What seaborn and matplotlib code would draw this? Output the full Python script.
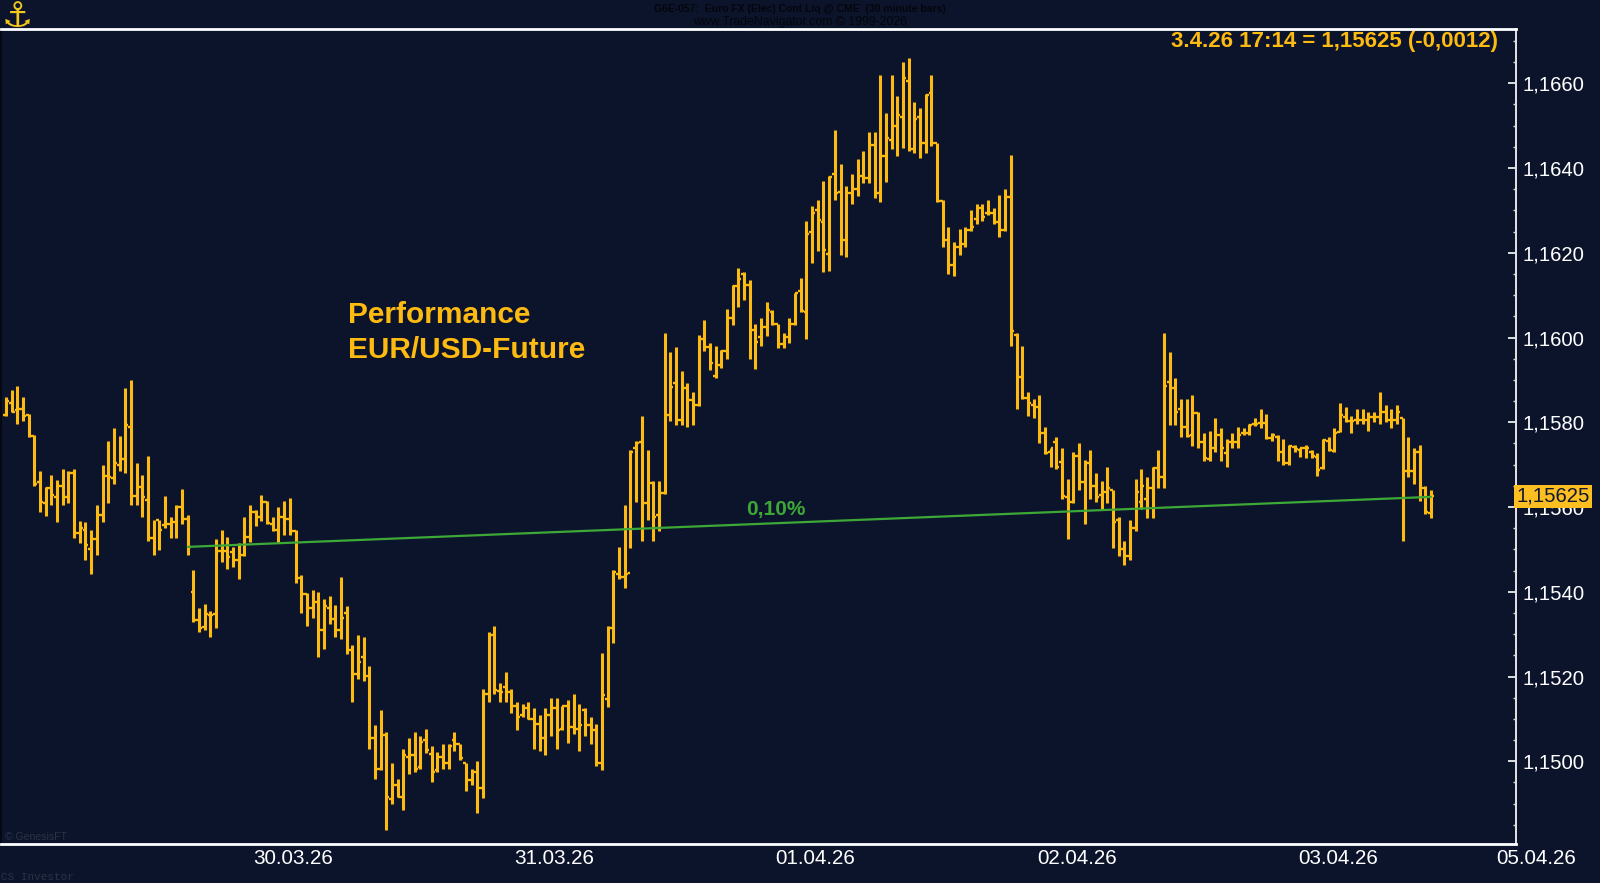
import matplotlib
matplotlib.use("Agg")
import matplotlib.pyplot as plt
from matplotlib.ticker import FixedLocator, FuncFormatter
import numpy as np
import pandas as pd
import seaborn as sns

# prices are written as points: 1586.0 means 1,15860
highs = [
1586.0,1587.6,1588.6,1586.0,1581.9,1577.0,1568.6,1564.8,1567.5,1566.5,
1569.0,1568.6,1569.0,1556.6,1556.5,1554.6,1560.6,1569.9,1575.6,1578.7,
1576.8,1588.1,1590.1,1570.5,1567.5,1572.0,1557.0,1556.9,1562.6,1557.7,
1560.6,1564.2,1558.1,1545.1,1536.1,1537.1,1535.5,1552.5,1554.6,1553.0,
1550.6,1551.6,1557.6,1560.6,1559.4,1562.9,1561.5,1557.7,1560.1,1561.4,
1562.1,1554.5,1543.9,1539.6,1540.4,1540.0,1538.4,1539.1,1537.0,1543.5,
1536.6,1527.4,1529.9,1529.4,1522.5,1508.5,1512.0,1507.0,1499.5,1495.9,
1503.0,1505.6,1507.0,1506.0,1507.6,1503.6,1502.1,1504.0,1504.0,1507.0,
1504.0,1499.5,1498.1,1500.0,1517.0,1530.6,1532.0,1518.5,1521.1,1517.0,
1514.0,1513.6,1514.1,1512.5,1511.0,1512.5,1515.0,1515.0,1513.0,1514.5,
1516.0,1513.6,1512.5,1510.5,1508.9,1525.5,1532.0,1545.1,1550.5,1560.6,
1573.5,1575.5,1581.6,1573.5,1566.1,1566.1,1601.0,1596.5,1597.7,1592.1,
1589.2,1587.1,1600.5,1604.1,1598.6,1598.1,1597.0,1606.7,1612.5,1616.5,
1615.5,1613.6,1603.3,1604.5,1608.4,1606.6,1603.3,1601.0,1604.5,1610.6,
1614.0,1627.5,1631.1,1632.4,1636.9,1638.1,1649.0,1640.9,1635.7,1638.5,
1642.1,1644.1,1648.6,1648.6,1661.9,1653.0,1661.9,1657.0,1665.1,1666.0,
1655.5,1654.1,1657.5,1661.9,1646.0,1632.4,1626.0,1622.6,1625.5,1626.0,
1630.0,1631.6,1631.6,1632.4,1630.5,1633.6,1635.0,1643.0,1601.0,1598.1,
1587.1,1585.6,1586.4,1579.0,1573.9,1576.6,1573.9,1566.6,1573.1,1575.0,
1571.1,1573.5,1568.1,1566.1,1569.5,1564.1,1557.6,1552.0,1556.9,1566.6,
1569.0,1567.0,1569.5,1573.5,1601.0,1596.5,1590.5,1585.6,1585.6,1586.4,
1582.4,1577.5,1578.0,1581.1,1578.7,1576.0,1577.5,1579.0,1578.6,1579.6,
1581.1,1583.1,1582.0,1577.5,1577.0,1576.0,1574.6,1574.6,1573.9,1574.6,
1573.5,1572.7,1576.0,1576.6,1578.6,1584.5,1583.5,1581.6,1583.1,1583.1,
1582.4,1582.4,1587.1,1584.0,1583.1,1584.0,1581.1,1576.6,1573.9,1574.6,
1565.0,1564.1]
lows = [
1581.5,1582.4,1579.5,1580.4,1576.6,1565.0,1558.9,1557.9,1560.5,1556.4,
1560.5,1560.9,1552.8,1551.5,1547.5,1544.3,1548.8,1556.4,1560.9,1565.4,
1568.5,1568.1,1560.5,1560.5,1557.6,1552.1,1548.8,1549.9,1555.0,1552.8,
1552.8,1556.1,1548.8,1532.9,1530.5,1531.0,1529.4,1531.4,1547.1,1545.4,
1545.9,1543.1,1548.4,1551.8,1555.5,1556.8,1556.1,1554.4,1551.4,1553.5,
1553.5,1542.0,1535.1,1531.9,1533.9,1524.5,1526.5,1532.5,1529.4,1528.9,
1525.4,1514.0,1519.4,1518.9,1503.0,1495.9,1497.9,1483.9,1489.9,1491.5,
1488.6,1497.1,1497.5,1498.3,1502.0,1495.0,1497.5,1498.3,1498.3,1502.5,
1500.4,1493.0,1494.4,1487.8,1491.4,1514.0,1516.0,1513.9,1513.9,1511.5,
1507.5,1510.5,1510.0,1503.0,1502.4,1501.5,1505.9,1503.0,1507.5,1504.4,
1506.4,1502.4,1505.9,1504.0,1498.9,1497.9,1512.9,1527.8,1543.0,1541.0,
1550.4,1561.3,1552.0,1557.0,1552.0,1554.4,1563.0,1580.4,1579.4,1579.4,
1579.0,1579.4,1583.9,1596.9,1592.4,1590.4,1592.9,1594.9,1602.9,1607.3,
1608.8,1594.9,1592.5,1598.0,1600.4,1602.9,1597.6,1597.6,1598.8,1602.9,
1606.0,1599.6,1617.5,1620.5,1615.4,1615.8,1632.4,1619.4,1619.0,1631.5,
1633.5,1636.4,1636.4,1633.0,1631.9,1636.8,1644.4,1642.9,1644.8,1644.0,
1643.5,1642.4,1643.5,1645.3,1631.9,1621.4,1614.9,1614.5,1619.4,1621.4,
1625.1,1626.9,1627.5,1629.0,1626.9,1623.8,1625.1,1598.0,1583.1,1585.5,
1581.5,1581.1,1575.0,1572.5,1569.4,1569.0,1562.0,1552.5,1560.9,1564.0,
1556.0,1562.0,1561.3,1559.3,1560.9,1550.4,1548.4,1546.4,1547.6,1554.4,
1559.5,1557.5,1557.5,1564.5,1564.5,1579.4,1579.4,1576.5,1576.5,1574.5,
1573.9,1570.9,1570.9,1572.9,1570.9,1569.4,1573.9,1573.9,1577.0,1577.0,
1579.1,1578.6,1576.0,1575.5,1570.9,1569.9,1569.9,1572.9,1571.9,1571.5,
1571.5,1567.4,1569.0,1573.3,1572.9,1577.6,1580.0,1577.4,1579.5,1579.5,
1577.9,1580.0,1579.5,1580.0,1578.6,1579.5,1552.0,1567.0,1565.5,1561.4,
1558.4,1557.5]
opens = [
1581.7,1584.5,1582.9,1583.1,1581.7,1576.8,1566.0,1560.9,1564.6,1562.4,
1565.0,1562.3,1568.1,1553.9,1554.6,1550.0,1552.4,1558.1,1567.4,1566.8,
1569.9,1571.4,1579.0,1562.6,1564.8,1561.7,1552.6,1556.9,1555.7,1556.1,
1556.5,1560.1,1557.1,1540.0,1533.3,1531.8,1534.5,1534.7,1549.7,1549.7,
1549.5,1547.5,1548.7,1553.0,1558.9,1557.6,1561.3,1556.1,1554.7,1557.7,
1557.1,1554.4,1543.2,1539.5,1536.1,1537.6,1531.1,1536.1,1533.5,1531.1,
1535.0,1526.2,1520.5,1524.5,1520.1,1505.6,1498.3,1506.2,1491.0,1494.4,
1491.6,1501.1,1501.5,1498.7,1505.1,1501.8,1497.9,1501.1,1499.5,1505.1,
1504.0,1499.5,1495.6,1497.5,1493.6,1515.9,1529.9,1516.6,1517.6,1516.4,
1513.1,1510.9,1512.5,1510.1,1508.9,1505.6,1510.9,1512.5,1507.7,1513.0,
1508.1,1507.7,1512.1,1508.5,1507.5,1499.5,1514.8,1531.5,1544.3,1543.5,
1544.5,1573.9,1575.4,1561.0,1565.6,1558.1,1563.4,1581.7,1589.2,1580.5,
1588.0,1585.3,1584.1,1599.7,1597.8,1590.9,1593.5,1596.9,1604.5,1612.1,
1615.1,1612.5,1601.8,1600.2,1602.5,1606.1,1603.1,1598.4,1600.2,1603.3,
1611.0,1606.1,1625.0,1630.1,1627.3,1619.8,1638.6,1634.4,1623.0,1634.0,
1635.0,1638.1,1637.7,1645.4,1634.0,1642.9,1646.6,1650.0,1652.1,1660.6,
1644.6,1652.1,1646.0,1657.6,1646.0,1632.3,1623.0,1617.1,1621.4,1622.0,
1625.4,1627.9,1630.5,1629.3,1629.3,1627.3,1625.4,1633.2,1600.6,1590.6,
1585.7,1584.1,1583.5,1577.5,1573.1,1575.4,1570.7,1562.4,1561.3,1572.0,
1566.0,1570.3,1565.0,1562.8,1563.5,1564.0,1556.9,1550.0,1548.5,1555.0,
1561.3,1562.0,1564.4,1569.1,1567.2,1589.6,1588.0,1583.1,1578.8,1577.0,
1582.3,1575.4,1571.3,1573.9,1577.0,1572.7,1575.4,1575.4,1577.4,1577.4,
1579.5,1579.8,1579.8,1576.2,1576.6,1573.1,1570.3,1574.1,1573.5,1573.9,
1573.1,1571.9,1569.1,1575.7,1573.3,1577.8,1581.2,1580.2,1580.6,1580.6,
1580.6,1581.2,1581.3,1582.5,1580.6,1580.6,1580.9,1568.6,1568.6,1573.1,
1564.4,1558.7]
closes = [
1585.1,1582.5,1583.1,1581.5,1576.8,1565.4,1561.3,1564.6,1562.8,1565.0,
1562.3,1568.1,1553.9,1555.0,1551.0,1552.4,1558.1,1567.4,1567.2,1570.3,
1571.4,1579.4,1562.6,1564.8,1562.4,1552.6,1555.6,1554.6,1556.1,1556.1,
1560.1,1557.1,1550.5,1533.3,1531.4,1534.7,1534.5,1549.7,1549.7,1548.3,
1547.5,1548.7,1553.0,1558.9,1557.6,1561.3,1556.3,1554.7,1557.7,1557.1,
1554.4,1543.2,1539.4,1536.1,1537.3,1531.1,1536.6,1533.5,1531.1,1533.9,
1526.6,1520.5,1523.5,1520.5,1505.6,1498.3,1506.2,1491.5,1494.4,1491.6,
1501.5,1501.5,1498.3,1504.6,1502.6,1497.5,1501.1,1499.5,1503.6,1504.2,
1500.7,1495.6,1497.5,1493.6,1516.0,1529.5,1516.8,1516.4,1516.4,1513.1,
1510.5,1512.1,1510.1,1508.9,1505.6,1510.9,1512.5,1507.5,1513.0,1508.1,
1507.7,1508.5,1508.5,1507.5,1499.5,1515.6,1531.5,1544.6,1543.5,1544.1,
1573.1,1575.0,1561.0,1565.0,1557.7,1563.2,1582.0,1588.4,1580.5,1588.0,
1585.3,1584.1,1599.7,1597.8,1594.1,1593.8,1596.9,1604.5,1612.1,1613.9,
1612.5,1601.8,1599.0,1602.5,1606.5,1603.1,1598.4,1600.2,1603.1,1610.4,
1606.3,1624.4,1629.5,1627.7,1620.6,1637.9,1634.0,1622.6,1634.0,1635.0,
1638.1,1637.6,1645.4,1634.4,1642.9,1647.0,1650.0,1652.5,1661.2,1644.6,
1651.5,1646.0,1657.2,1646.0,1632.3,1623.0,1617.1,1621.4,1622.0,1625.4,
1626.0,1630.5,1628.5,1629.5,1627.3,1625.4,1633.2,1601.6,1590.6,1585.7,
1584.5,1583.5,1577.5,1572.8,1573.9,1569.5,1562.6,1563.1,1572.0,1566.0,
1570.1,1565.0,1562.4,1563.5,1564.4,1556.5,1550.0,1548.5,1555.0,1563.5,
1565.0,1564.6,1569.1,1567.2,1588.6,1588.0,1582.5,1578.8,1576.8,1582.3,
1575.4,1571.5,1573.9,1577.0,1573.9,1575.4,1575.4,1577.0,1577.8,1579.4,
1579.5,1579.5,1576.2,1577.0,1573.1,1570.3,1574.3,1573.7,1573.9,1573.9,
1572.0,1568.7,1575.8,1573.5,1577.4,1581.7,1580.2,1580.2,1580.6,1580.6,
1581.2,1581.3,1582.5,1582.5,1580.6,1582.5,1568.6,1568.6,1573.1,1564.6,
1558.9,1562.5]
trend_bars = [32, 251]
trend_points = [1550.6, 1562.4]
date_labels = ["30.03.26", "31.03.26", "01.04.26", "02.04.26", "03.04.26"]
date_label_bars = [50.6, 96.6, 142.6, 188.6, 234.6]
last_date_label = "05.04.26"
last_date_bar = 269.6
last_price = 1562.5

BG = "#0C142C"
GOLD = "#FDBA10"
GREEN = "#3DA835"
W, H = 1600, 883
AX_L, AX_R, AX_T, AX_B = 1, 1516, 29, 844
PX_PER_BAR = 5.677
PX_BAR0 = 6
PX_1660 = 83.3
PX_PER_POINT = 4.2375

sns.set_theme(style="dark", rc={"axes.grid": False})
plt.rcParams["font.family"] = ["Liberation Sans", "DejaVu Sans"]

fig = plt.figure(figsize=(W / 100, H / 100), dpi=100, facecolor=BG)
ax = fig.add_axes([AX_L / W, 1 - AX_B / H, (AX_R - AX_L) / W, (AX_B - AX_T) / H], facecolor=BG)


def price(p):
    return 1 + np.asarray(p, dtype=float) / 10000


n = len(highs)
bars = np.arange(n)
df = pd.DataFrame({
    "bar": np.tile(bars, 2),
    "x": np.tile(bars, 2),
    "y": np.concatenate([price(lows), price(highs)]),
})
sns.lineplot(data=df, x="x", y="y", units="bar", estimator=None, sort=False,
             color=GOLD, linewidth=2.2, solid_capstyle="butt", legend=False, ax=ax, zorder=2)
ax.hlines(price(opens), bars - 0.5, bars, color=GOLD, linewidth=1.7, zorder=2)
ax.hlines(price(closes), bars, bars + 0.5, color=GOLD, linewidth=1.7, zorder=2)

trend = pd.DataFrame({"x": trend_bars, "y": price(trend_points)})
sns.lineplot(data=trend, x="x", y="y", color=GREEN, linewidth=1.6, legend=False, ax=ax, zorder=3)

ax.set_xlim((AX_L - PX_BAR0) / PX_PER_BAR, (AX_R - PX_BAR0) / PX_PER_BAR)
ax.set_ylim(price(1660 - (AX_B - PX_1660) / PX_PER_POINT), price(1660 - (AX_T - PX_1660) / PX_PER_POINT))
ax.set_xlabel("")
ax.set_ylabel("")

ax.set_xticks(date_label_bars, date_labels)
ax.tick_params(axis="x", length=0, pad=3.5, labelsize=14.9, colors="white")
ax.yaxis.tick_right()
ax.yaxis.set_major_locator(FixedLocator(price(np.arange(1500, 1661, 20))))
ax.yaxis.set_minor_locator(FixedLocator(price(np.arange(1485, 1671, 5))))
ax.yaxis.set_major_formatter(FuncFormatter(lambda v, _: f"{v:.4f}".replace(".", ",")))
ax.tick_params(axis="y", which="major", direction="in", length=6, width=1.2, color="white",
               labelcolor="white", labelsize=14.6, pad=5)
ax.tick_params(axis="y", which="minor", direction="in", length=2.5, width=1.0, color="#D8D8D8")
for s in ["top", "bottom"]:
    ax.spines[s].set_color("white")
    ax.spines[s].set_linewidth(2.0)
ax.spines["right"].set_color("#E4E4E4")
ax.spines["right"].set_linewidth(1.4)
ax.spines["left"].set_color("#04060C")
ax.spines["left"].set_linewidth(1.2)

ax.text(last_date_bar, -4.9 / (AX_B - AX_T), last_date_label, transform=ax.get_xaxis_transform(),
        ha="center", va="top", fontsize=14.9, color="white", clip_on=False)

ax.text(1.00040, price(last_price), "1,15625", transform=ax.get_yaxis_transform(), ha="left", va="center",
        fontsize=14.6, color="#101830", zorder=6, clip_on=False,
        bbox=dict(boxstyle="square,pad=0.12", facecolor="#FDBE22", edgecolor="none"))


def ftext(x, y, s, **kw):
    return fig.text(x / W, 1 - y / H, s, **kw)


ftext(348, 315, "Performance", fontsize=21.5, fontweight="bold", color=GOLD, va="center", ha="left")
ftext(348, 350, "EUR/USD-Future", fontsize=21.5, fontweight="bold", color=GOLD, va="center", ha="left")
ftext(776, 509, "0,10%", fontsize=15, fontweight="bold", color=GREEN, va="center", ha="center")
ftext(1498, 41, "3.4.26 17:14 = 1,15625 (-0,0012)", fontsize=16, fontweight="bold", color=GOLD,
      va="center", ha="right")
ftext(800, 9, "G6E-057:  Euro FX (Elec) Cont Liq @ CME  (30 minute bars)", fontsize=7.5, fontweight="bold",
      color="#04060C", va="center", ha="center")
ftext(800, 22, "www.TradeNavigator.com © 1999-2026", fontsize=8.8, color="#04060C", va="center", ha="center")
ftext(5, 837, "© GenesisFT", fontsize=7.6, color="#2A3245", va="center", ha="left")
ftext(1, 877, "CS Investor", fontsize=7.9, color="#2A3245", va="center", ha="left", family="Liberation Mono")
ftext(17, 17, "⚓", fontsize=25, fontweight="bold", color="#F2C81E", va="center", ha="center", family="DejaVu Sans")

fig.savefig("out.png", dpi=100, facecolor=BG)
